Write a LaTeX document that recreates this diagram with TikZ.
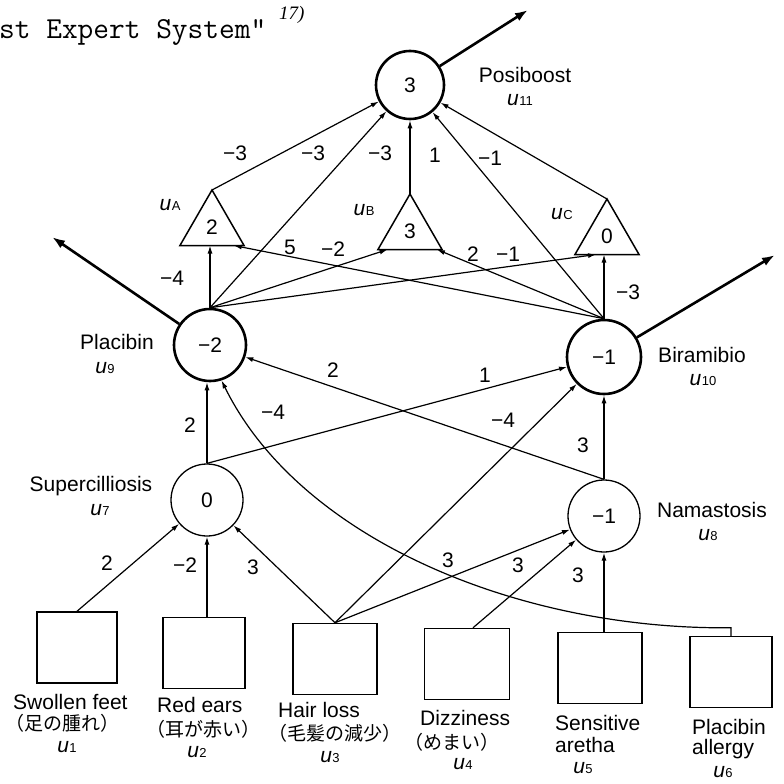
\documentclass[tikz,border=0pt]{standalone}
\usepackage{fontspec}
\setmainfont{Liberation Sans}
\newfontfamily\jpfont{Noto Sans CJK JP}
\newfontfamily\serifit{Liberation Serif}
\usetikzlibrary{shapes.geometric,arrows.meta,calc}
\newcommand\uvar[1]{{\fontsize{21}{21}\selectfont\itshape u}\kern0.5pt\raisebox{-0.5pt}{\fontsize{13}{13}\selectfont #1}}
\newcommand\lfs{\fontsize{21}{21}\selectfont}
\begin{document}
\begin{tikzpicture}[x=1pt,y=-1pt,
  lab/.style={font=\lfs, inner sep=0pt},
  wt/.style={font=\lfs, inner sep=0pt},
  jp/.style={font=\fontsize{19}{19}\jpfont, inner sep=0pt, anchor=west},
  bx/.style={font=\lfs, inner sep=0pt, anchor=west},
  bigunit/.style={circle, draw, line width=2.6pt, minimum size=72pt, inner sep=0pt, font=\lfs},
  smallunit/.style={circle, draw, line width=1.3pt, minimum size=72pt, inner sep=0pt, font=\lfs},
  tri/.style={regular polygon, regular polygon sides=3, draw, line width=1.5pt, minimum size=74pt, inner sep=0pt, outer sep=0pt, font=\lfs},
  inbox/.style={rectangle, draw, line width=1.5pt, minimum width=82pt, minimum height=71pt, inner sep=0pt},
  conn/.style={line width=1.2pt, -{Latex[length=8pt,width=5pt]}},
  outarr/.style={line width=2.6pt, -{Latex[length=13pt,width=9pt]}},
]
\fill[white] (0,0) rectangle (784,784);
\useasboundingbox (0,0) rectangle (784,784);

% title
\node[anchor=base west, inner sep=0pt, font=\fontsize{30.5}{30.5}\ttfamily] (title) at (-1,38) {st Expert System”};
\node[anchor=base west, inner sep=0pt, font=\fontsize{19}{19}\serifit\itshape] (tref) at (279,20) {17)};

% units
\node[bigunit, minimum size=68pt] (u11) at (410,85) {3};
\node[bigunit] (u9) at (210,345) {−2};
\node[bigunit, minimum size=74pt] (u10) at (604,357) {−1};
\node[smallunit] (u7) at (207,500) {0};
\node[smallunit] (u8) at (604,516) {−1};
\node[tri] (uA) at (212,227) {2};
\node[tri] (uB) at (410,231) {3};
\node[tri] (uC) at (607,236) {0};

% input boxes
\node[inbox, minimum width=80pt] (b1) at (77,647.5) {};
\node[inbox] (b2) at (204,653) {};
\node[inbox, minimum width=84pt] (b3) at (335,659) {};
\node[inbox, minimum width=85pt] (b4) at (467,664) {};
\node[inbox, minimum width=84pt] (b5) at (600,668) {};
\node[inbox] (b6) at (731,672) {};

% outputs
\coordinate (o11) at (528,10);
\coordinate (o9) at (52,237);
\coordinate (o10) at (775,255);
\draw[outarr] (u11) -- (o11);
\draw[outarr] (u9) -- (o9);
\draw[outarr] (u10) -- (o10);

% into u11
\draw[conn] (uA.corner 1) -- (u11);
\draw[conn] (u9.north) -- (u11);
\draw[conn] (uB.corner 1) -- (u11.south);
\draw[conn] (u10.north) -- (u11);
\draw[conn] (uC.corner 1) -- (u11);

% into triangles
\draw[conn] (u9.north) -- (u9.north |- uA.south);
\draw[conn] (u9.north) -- ($(uB.corner 2)!0.15!(uB.corner 3)$);
\draw[conn] (u9.north) -- ($(uC.corner 2)!0.33!(uC.corner 3)$);
\draw[conn] (u10.north) -- ($(uA.corner 2)!0.84!(uA.corner 3)$);
\draw[conn] (u10.north) -- ($(uB.corner 2)!0.92!(uB.corner 3)$);
\draw[conn] (u10.north) -- (u10.north |- uC.south);

% middle layer
\draw[conn] (u7.north) -- (u7.north |- u9.south);
\draw[conn] (u7.north) -- (u10);
\draw[conn] (u8.north) -- (u9);
\draw[conn] (u8.north) -- (u10.south);
\draw[conn] (b6.north) -- ++(0,-8) .. controls (520,630) and (300,540) .. (u9.288);

% from inputs
\draw[conn] (b1.north) -- (u7);
\draw[conn] (u7 |- b2.north) -- (u7.south);
\draw[conn] (b3.north) -- (u7);
\draw[conn] (b3.north) -- (u10);
\draw[conn] (b3.north) -- (u8);
\draw[conn] ([xshift=6pt]b4.north) -- (u8);
\draw[conn] (u8 |- b5.north) -- (u8.south);

% weights
\node[wt] (w1) at (235,153) {−3};
\node[wt] (w2) at (313,153) {−3};
\node[wt] (w3) at (380,153) {−3};
\node[wt] (w4) at (435,155) {1};
\node[wt] (w5) at (490,158) {−1};
\node[wt] (w6) at (172,278) {−4};
\node[wt] (w7) at (290,247) {5};
\node[wt] (w8) at (333,249) {−2};
\node[wt] (w9) at (473,254) {2};
\node[wt] (w10) at (508,254) {−1};
\node[wt] (w11) at (628,292) {−3};
\node[wt] (w12) at (190,425) {2};
\node[wt] (w13) at (333,370) {2};
\node[wt] (w14) at (273,412) {−4};
\node[wt] (w15) at (485,375) {1};
\node[wt] (w16) at (503,420) {−4};
\node[wt] (w17) at (583,445) {3};
\node[wt] (w18) at (107,563) {2};
\node[wt] (w19) at (185,565) {−2};
\node[wt] (w20) at (253,567) {3};
\node[wt] (w21) at (448,560) {3};
\node[wt] (w22) at (518,565) {3};
\node[wt] (w23) at (578,575) {3};

% unit names
\node[lab] (nPos) at (525,75) {Posiboost};
\node[lab] (nU11) at (520,100) {\uvar{11}};
\node[lab] (nPla) at (117,342) {Placibin};
\node[lab] (nU9) at (105,368) {\uvar{9}};
\node[lab] (nBir) at (702,355) {Biramibio};
\node[lab] (nU10) at (703,380) {\uvar{10}};
\node[lab] (nSup) at (91,486) {Supercilliosis};
\node[lab] (nU7) at (100,510) {\uvar{7}};
\node[lab] (nNam) at (712,510) {Namastosis};
\node[lab] (nU8) at (708,535) {\uvar{8}};
\node[lab] (nUA) at (170,205) {\uvar{A}};
\node[lab] (nUB) at (364,210) {\uvar{B}};
\node[lab] (nUC) at (562,214) {\uvar{C}};

% input labels
\node[bx] (t1a) at (13,702) {Swollen feet};
\node[jp] (t1b) at (5,723) {（足の腫れ）};
\node[lab] (t1c) at (67,747) {\uvar{1}};
\node[bx] (t2a) at (157,705) {Red ears};
\node[jp] (t2b) at (146,729) {（耳が赤い）};
\node[lab] (t2c) at (197,752) {\uvar{2}};
\node[bx] (t3a) at (278,710) {Hair loss};
\node[jp] (t3b) at (268,733) {（毛髪の減少）};
\node[lab] (t3c) at (330,757) {\uvar{3}};
\node[bx] (t4a) at (420,718) {Dizziness};
\node[jp] (t4b) at (404,742) {（めまい）};
\node[lab] (t4c) at (463,764) {\uvar{4}};
\node[bx] (t5a) at (555,723) {Sensitive};
\node[bx] (t5b) at (555,745) {aretha};
\node[lab] (t5c) at (583,768) {\uvar{5}};
\node[bx] (t6a) at (692,727) {Placibin};
\node[bx] (t6b) at (692,749) {allergy};
\node[lab] (t6c) at (723,772) {\uvar{6}};
\end{tikzpicture}
\end{document}
